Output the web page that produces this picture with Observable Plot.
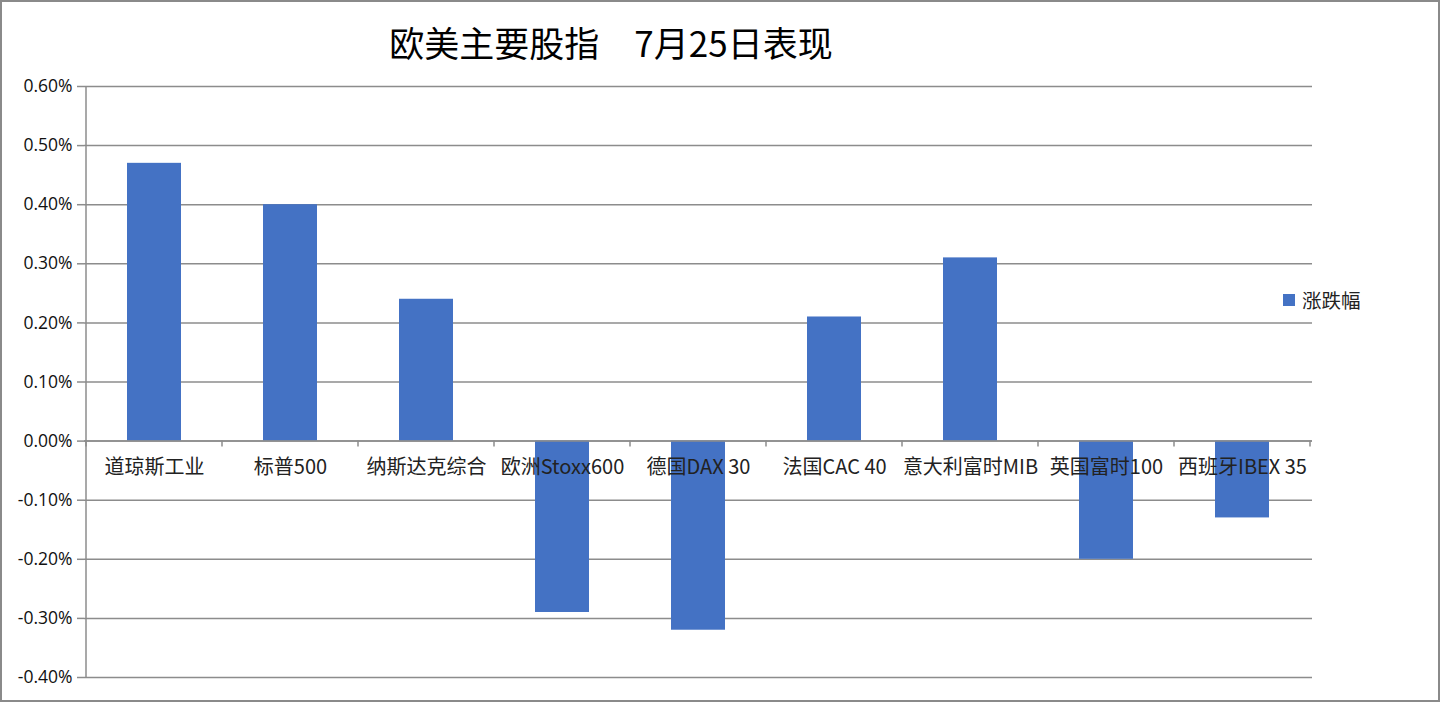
<!DOCTYPE html>
<html>
<head>
<meta charset="utf-8">
<script src="https://cdn.jsdelivr.net/npm/d3@7"></script>
<script src="https://cdn.jsdelivr.net/npm/@observablehq/plot@0.6"></script>
<style>
  html, body { margin: 0; padding: 0; background: #fff; }
  #wrap { position: relative; width: 1440px; height: 702px; overflow: hidden; background: #fff; }
  #chart { position: absolute; left: 0; top: 0; }
  #title { position: absolute; left: 0; width: 1222px; top: 17px; text-align: center;
    font-family: "Noto Sans CJK SC", sans-serif; font-size: 35px; color: #000; line-height: 50px; white-space: pre; }
  #legend { position: absolute; left: 1283px; top: 287px; font-family: "Noto Sans CJK SC", sans-serif;
    font-size: 19.5px; color: #222; display: flex; align-items: center; line-height: 26px; }
  #legend .sw { width: 12px; height: 12px; background: #4472C4; margin-right: 7px; }
  #border { position: absolute; left: 0; top: 0; width: 1440px; height: 702px; box-sizing: border-box;
    border: 2px solid #8a8a8a; pointer-events: none; }
</style>
</head>
<body>
<div id="wrap">
  <div id="chart"></div>
  <div id="title">欧美主要股指　7月25日表现</div>
  <div id="legend"><span class="sw"></span><span>涨跌幅</span></div>
  <div id="border"></div>
</div>
<script>
const categories = ["道琼斯工业", "标普500", "纳斯达克综合", "欧洲Stoxx600", "德国DAX 30", "法国CAC 40", "意大利富时MIB", "英国富时100", "西班牙IBEX 35"];
const changes = [0.47, 0.40, 0.24, -0.29, -0.32, 0.21, 0.31, -0.20, -0.13];
const yTicks = [-0.4, -0.3, -0.2, -0.1, 0, 0.1, 0.2, 0.3, 0.4, 0.5, 0.6];
const seriesName = "涨跌幅";

const data = categories.map((c, i) => ({name: c, value: changes[i]}));
const gridColor = "#8c8c8c";

function axisLines(index, scales) {
  const x = scales.x, y = scales.y;
  const step = x.step(), bw = x.bandwidth();
  const y0 = y(0);
  const g = d3.create("svg:g").attr("stroke", gridColor).attr("stroke-width", 1.5);
  const xs = categories.map(c => x(c) + bw / 2 - step / 2);
  xs.push(x(categories[categories.length - 1]) + bw / 2 + step / 2);
  for (const px of xs) {
    g.append("line").attr("x1", px).attr("x2", px).attr("y1", y0).attr("y2", y0 + 6);
  }
  const [ya, yb] = y.range();
  g.append("line").attr("x1", xs[0]).attr("x2", xs[0]).attr("y1", ya).attr("y2", yb);
  return g.node();
}

const chart = Plot.plot({
  width: 1440,
  height: 702,
  marginLeft: 84,
  marginRight: 128,
  marginTop: 86,
  marginBottom: 25,
  style: {fontFamily: "'Noto Sans CJK SC', sans-serif", background: "transparent"},
  x: {domain: categories, paddingInner: 0.6, paddingOuter: 0.3, axis: null},
  y: {domain: [-0.4, 0.6], ticks: yTicks, axis: null},
  marks: [
    Plot.gridY(yTicks, {stroke: gridColor, strokeOpacity: 1, strokeWidth: 1.5}),
    Plot.barY(data, {x: "name", y: "value", fill: "#4472C4"}),
    Plot.ruleY([0], {stroke: gridColor, strokeWidth: 1.5}),
    axisLines,
    Plot.axisY(yTicks, {tickSize: 7, stroke: gridColor, strokeWidth: 1.5, tickPadding: 5,
      tickFormat: d => d.toFixed(2) + "%", fontSize: 17.5, fill: "#111",
      fontFamily: "'Open Sans', sans-serif", label: null}),
    Plot.text(data, {x: "name", y: 0, text: "name", dy: 26, fontSize: 20, fill: "#222",
      fontFamily: "'Noto Sans CJK SC', sans-serif"})
  ]
});
document.getElementById("chart").appendChild(chart);
</script>
</body>
</html>
